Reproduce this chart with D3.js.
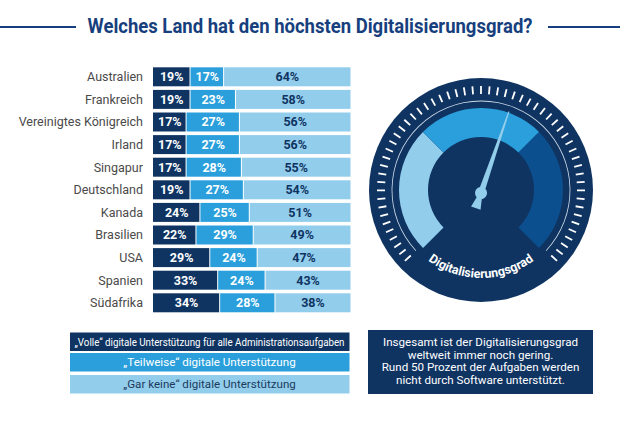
<!DOCTYPE html>
<html><head><meta charset="utf-8">
<script src="https://cdn.jsdelivr.net/npm/d3@7"></script>
<style>body{margin:0;background:#fff}svg{display:block}</style>
</head><body>
<script>
const titleText = "Welches Land hat den höchsten Digitalisierungsgrad?";
const countries = ["Australien","Frankreich","Vereinigtes Königreich","Irland","Singapur","Deutschland","Kanada","Brasilien","USA","Spanien","Südafrika"];
const volle = [19,19,17,17,17,19,24,22,29,33,34];
const teilweise = [17,23,27,27,28,27,25,29,24,24,28];
const garKeine = [64,58,56,56,55,54,51,49,47,43,38];
const legendLabels = ["„Volle“ digitale Unterstützung für alle Administrationsaufgaben","„Teilweise“ digitale Unterstützung","„Gar keine“ digitale Unterstützung"];
const noteLines = ["Insgesamt ist der Digitalisierungsgrad","weltweit immer noch gering.","Rund 50 Prozent der Aufgaben werden","nicht durch Software unterstützt."];
const gaugeLabel = "Digitalisierungsgrad";
const gaugeBands = [0, 33.3, 66.7, 100];
const gaugeValue = 57;
const gaugeTickCount = 57;

const W = 620, H = 430;
const navy = "#0f3462", mid = "#2a9fdb", light = "#92cdec", darkArc = "#0b4f8e", titleCol = "#173f7e";
const colors = [navy, mid, light];
const textCols = ["#fff", "#fff", navy];

const svg = d3.select("body").append("svg").attr("width", W).attr("height", H);

// Title
svg.append("text").attr("x", 310).attr("y", 33).attr("text-anchor", "middle")
  .attr("font-family", "Roboto, sans-serif").attr("font-weight", 700).attr("font-size", 20)
  .attr("fill", titleCol).attr("textLength", 445).attr("lengthAdjust", "spacingAndGlyphs").text(titleText);
svg.append("line").attr("x1", 0).attr("x2", 76).attr("y1", 27).attr("y2", 27).attr("stroke", titleCol).attr("stroke-width", 2);
svg.append("line").attr("x1", 548).attr("x2", 620).attr("y1", 27).attr("y2", 27).attr("stroke", titleCol).attr("stroke-width", 2);

// Bars
const x = d3.scaleLinear().domain([0, 100]).range([153, 350.5]);
const y = d3.scaleBand().domain(countries).range([65.5, 314.1]).paddingInner(0.16).paddingOuter(0.08);
const rows = countries.map((c, i) => {
  const vals = [volle[i], teilweise[i], garKeine[i]];
  let acc = 0;
  return { c, segs: vals.map((v, k) => { const s = { k, v, x0: acc, x1: acc + v }; acc += v; return s; }) };
});
const g = svg.append("g");
g.selectAll("text.country").data(rows).join("text").attr("class", "country")
  .attr("x", 143).attr("y", d => y(d.c) + y.bandwidth() / 2).attr("dy", "0.35em")
  .attr("text-anchor", "end").attr("font-family", "Roboto, sans-serif").attr("font-size", 12.5)
  .attr("fill", "#4a4a4a").text(d => d.c);
const rg = g.selectAll("g.row").data(rows).join("g").attr("class", "row")
  .attr("transform", d => `translate(0,${y(d.c)})`);
rg.selectAll("rect").data(d => d.segs).join("rect")
  .attr("x", s => x(s.x0)).attr("width", s => x(s.x1) - x(s.x0) - (s.k < 2 ? 1 : 0))
  .attr("height", y.bandwidth()).attr("fill", s => colors[s.k]);
rg.selectAll("text").data(d => d.segs).join("text")
  .attr("x", s => (x(s.x0) + x(s.x1)) / 2).attr("y", y.bandwidth() / 2).attr("dy", "0.36em")
  .attr("text-anchor", "middle").attr("font-family", "Roboto, sans-serif").attr("font-weight", 700)
  .attr("font-size", 12.5).attr("fill", s => textCols[s.k]).text(s => s.v + "%");

// Legend
const ly = [332.5, 353, 375], lh = 18.5;
legendLabels.forEach((t, i) => {
  svg.append("rect").attr("x", 70).attr("y", ly[i]).attr("width", 279.5).attr("height", lh).attr("fill", colors[i]);
  const tx = svg.append("text").attr("x", 209.5).attr("y", ly[i] + lh / 2).attr("dy", "0.35em").attr("text-anchor", "middle")
    .attr("font-family", "Roboto, sans-serif").attr("font-size", 11.6).attr("fill", i < 2 ? "#fff" : "#1d3a5c").text(t);
  if (tx.node().getComputedTextLength() > 270) tx.attr("textLength", 270).attr("lengthAdjust", "spacingAndGlyphs");
});

// Note box
svg.append("rect").attr("x", 368).attr("y", 330).attr("width", 225).attr("height", 64).attr("fill", navy);
noteLines.forEach((t, i) => {
  svg.append("text").attr("x", 480.5).attr("y", 342 + i * 12.6).attr("dy", "0.35em").attr("text-anchor", "middle")
    .attr("font-family", "Roboto, sans-serif").attr("font-size", 11.6).attr("fill", "#fff").text(t);
});

// Gauge
const cx = 481, cy = 190;
const gg = svg.append("g").attr("transform", `translate(${cx},${cy})`);
const ang = d3.scaleLinear().domain([0, 100]).range([-135, 135]);
const rad = a => a * Math.PI / 180;
gg.append("circle").attr("r", 112).attr("fill", navy);
const arc = d3.arc().innerRadius(53).outerRadius(82);
const bandCols = [light, mid, darkArc];
for (let i = 0; i < 3; i++) {
  gg.append("path").attr("d", arc({ startAngle: rad(ang(gaugeBands[i])), endAngle: rad(ang(gaugeBands[i + 1])) })).attr("fill", bandCols[i]);
}
gg.append("path").attr("d", d3.arc().innerRadius(88.6).outerRadius(89.4)({ startAngle: rad(-133), endAngle: rad(133) })).attr("fill", "#cfdbe8");
const tickScale = d3.scaleLinear().domain([0, gaugeTickCount - 1]).range([-133, 133]);
gg.selectAll("line.tick").data(d3.range(gaugeTickCount)).join("line").attr("class", "tick")
  .attr("x1", i => 96 * Math.sin(rad(tickScale(i)))).attr("y1", i => -96 * Math.cos(rad(tickScale(i))))
  .attr("x2", i => 104 * Math.sin(rad(tickScale(i)))).attr("y2", i => -104 * Math.cos(rad(tickScale(i))))
  .attr("stroke", "#fff").attr("stroke-width", 1.8);
const na = ang(gaugeValue);
const ng = gg.append("g").attr("transform", `translate(0,3) rotate(${na})`);
ng.append("path").attr("d", "M-3,0 L-0.6,-86 L0.6,-86 L3,0 Z").attr("fill", light);
ng.append("path").attr("d", "M-1.5,0 L-5,16 L5,16 L1.5,0 Z").attr("fill", light);
ng.append("circle").attr("r", 6).attr("fill", light);
const R = 88, phi = 72;
const sx = -R * Math.sin(rad(phi)), sy = R * Math.cos(rad(phi));
gg.append("path").attr("id", "lblPath").attr("fill", "none")
  .attr("d", `M${sx},${sy} A${R},${R} 0 0 0 ${-sx},${sy}`);
gg.append("text").attr("font-family", "Roboto, sans-serif").attr("font-weight", 700).attr("font-size", 12.5)
  .attr("fill", "#fff")
  .append("textPath").attr("href", "#lblPath").attr("startOffset", "50%").attr("text-anchor", "middle").text(gaugeLabel);
</script>
</body></html>
